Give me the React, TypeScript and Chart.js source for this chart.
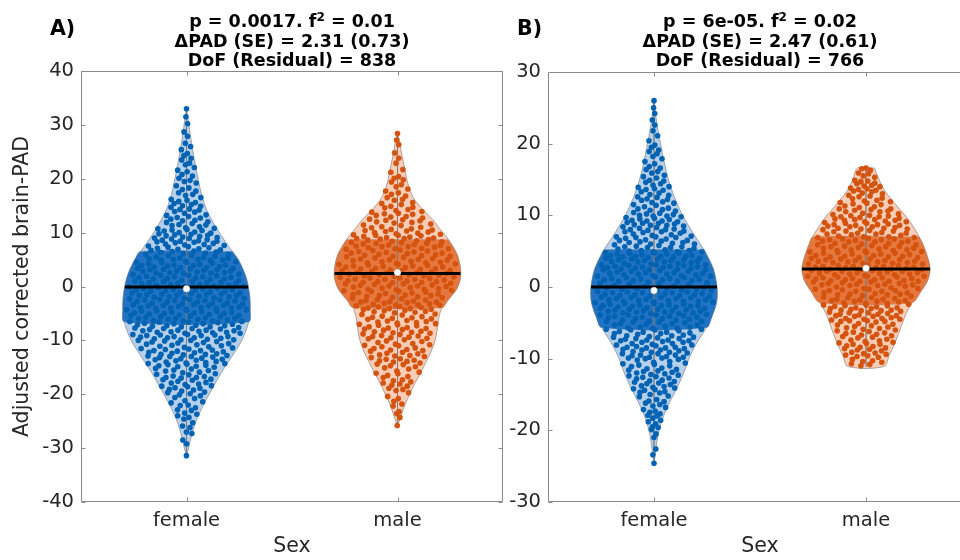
import React, { useEffect, useRef } from 'react';
import { Chart, registerables } from 'chart.js';

Chart.register(...registerables);
Chart.defaults.font.family = "'DejaVu Sans', sans-serif";

// ---------- shared ----------
const categories = ['female', 'male'];
const xTickValues = [1, 2];
const axisTitleX = 'Sex';
const axisTitleY = 'Adjusted corrected brain-PAD';

// ---------- panel A ----------
const statsA = ['0.0017', '0.01', '2.31', '0.73', '838']; // p, f2, dPAD, SE, DoF
const yRangeA = [-40, 40, 10];
const quartilesA = [[-6.6, 6.5], [-3.9, 8.7]];
const meansA = [-0.1, 2.4];
const mediansA = [-0.4, 2.6];

const outlineYFemaleA = [33.0, 31.0, 29.0, 26.0, 23.0, 20.0, 17.0, 14.0, 11.0, 8.0, 5.0, 2.0, -1.0, -4.0, -7.0, -10.0, -13.0, -16.0, -19.0, -22.0, -25.0, -28.0, -30.0, -31.5];
const outlineWFemaleA = [0, 0.008, 0.015, 0.027, 0.04, 0.055, 0.072, 0.098, 0.14, 0.19, 0.245, 0.28, 0.297, 0.302, 0.292, 0.262, 0.215, 0.165, 0.122, 0.08, 0.045, 0.022, 0.01, 0];
const outlineYMaleA = [28.5, 27.0, 25.0, 22.0, 19.0, 16.5, 14.5, 12.5, 10.5, 8.5, 6.0, 3.5, 1.5, -0.5, -2.5, -4.0, -6.0, -8.0, -10.0, -12.0, -14.0, -16.0, -18.0, -20.0, -22.0, -24.0, -26.0];
const outlineWMaleA = [0, 0.01, 0.018, 0.034, 0.05, 0.075, 0.115, 0.165, 0.205, 0.245, 0.282, 0.298, 0.298, 0.28, 0.24, 0.21, 0.195, 0.188, 0.178, 0.16, 0.135, 0.11, 0.082, 0.058, 0.035, 0.017, 0];

const femaleA = [
  33.0, 30.2, 27.9, 26.6, 25.4,
  24.3, 23.5, 22.6, 22.1, 21.3, 20.8, 20.1,
  19.7, 19.2, 18.3, 18.0, 17.4, 16.9, 16.5, 16.0, 15.6, 15.2,
  14.9, 14.4, 14.2, 13.8, 13.3, 13.2, 12.7, 12.5, 12.0, 11.9, 11.5, 11.3, 10.9, 10.8, 10.5, 10.4, 10.1, 10.0,
  9.9, 9.6, 9.5, 9.3, 9.2, 8.9, 8.8, 8.6, 8.4, 8.3, 8.0, 7.8, 7.7, 7.5, 7.4, 7.1, 7.0, 6.8, 6.7, 6.4, 6.3, 6.1, 5.9, 5.8, 5.6, 5.5, 5.3, 5.2, 5.0,
  4.9, 4.8, 4.7, 4.5, 4.4, 4.3, 4.1, 4.0, 3.9, 3.8, 3.6, 3.5, 3.4, 3.3, 3.1, 3.0, 2.9, 2.7, 2.6, 2.5, 2.4, 2.2, 2.1, 2.0, 1.8, 1.7, 1.6, 1.4, 1.3, 1.2, 1.0, 0.9, 0.8, 0.6, 0.5, 0.4, 0.2, 0.1,
  -0.1, -0.2, -0.3, -0.4, -0.6, -0.7, -0.8, -0.9, -1.1, -1.2, -1.3, -1.4, -1.5, -1.7, -1.8, -1.9, -2.0, -2.2, -2.3, -2.4, -2.5, -2.6, -2.8, -2.9, -3.0, -3.1, -3.2, -3.4, -3.5, -3.6, -3.7, -3.9, -4.0, -4.1, -4.2, -4.3, -4.5, -4.6, -4.7, -4.8, -4.9, -5.0, -5.0,
  -5.1, -5.3, -5.4, -5.5, -5.6, -5.8, -5.9, -6.0, -6.1, -6.3, -6.4, -6.5, -6.6, -6.8, -6.9, -7.0, -7.2, -7.3, -7.4, -7.5, -7.7, -7.8, -7.9, -8.1, -8.2, -8.3, -8.5, -8.6, -8.7, -8.9, -9.0, -9.1, -9.3, -9.4, -9.5, -9.6, -9.8, -9.9, -10.0, -10.0,
  -10.2, -10.3, -10.5, -10.6, -10.8, -11.0, -11.1, -11.3, -11.4, -11.6, -11.8, -11.9, -12.1, -12.2, -12.4, -12.6, -12.7, -12.9, -13.0, -13.2, -13.4, -13.5, -13.7, -13.8, -14.0, -14.2, -14.3, -14.5, -14.7, -14.8, -15.0,
  -15.2, -15.5, -15.7, -15.9, -16.2, -16.4, -16.7, -16.9, -17.2, -17.4, -17.6, -17.9, -18.1, -18.4, -18.6, -18.9, -19.1, -19.4, -19.6, -19.9,
  -20.3, -20.8, -21.2, -21.6, -22.1, -22.5, -23.0, -23.5, -24.0, -24.6,
  -25.3, -26.2, -27.3, -28.5,
  -31.4,
  31.5, 28.7, 26.0,
  24.7, 23.8, 22.9, 21.6, 20.5,
  19.5, 18.7, 17.7, 17.1, 16.2, 15.8, 15.4, 15.0,
  14.7, 14.3, 13.9, 13.6, 13.0, 12.8, 12.3, 12.2, 11.7, 11.4, 11.1, 10.7, 10.6, 10.3,
  9.8, 9.7, 9.4, 9.1, 9.0, 8.7, 8.5, 8.2, 8.1, 7.9, 7.6, 7.3, 7.2, 6.9, 6.6, 6.5, 6.2, 6.0, 5.7, 5.4, 5.1, 5.0, 8.4,
  4.95, 4.6, 4.5, 4.2, 4.0, 3.9, 3.7, 3.5, 3.2, 3.1, 2.8, 2.6, 2.5, 2.3, 2.1, 1.9, 1.8, 1.5, 1.4, 1.1, 0.9, 0.7, 0.7, 0.5, 0.3, 0.2, 0.0, 3.4, 1.6, 2.9,
  -0.05, -0.2, -0.4, -0.5, -0.7, -0.9, -1.0, -1.2, -1.4, -1.6, -1.7, -1.9, -2.1, -2.2, -2.4, -2.6, -2.7, -2.9, -3.1, -3.3, -3.4, -3.6, -3.8, -3.9, -4.1, -4.3, -4.4, -4.6, -4.8, -4.9, -1.5, -2.5, -3.5, -4.0,
  -5.2, -5.4, -5.6, -5.7, -5.9, -6.1, -6.2, -6.4, -6.6, -6.7, -6.9, -7.1, -7.3, -7.5, -7.6, -7.8, -8.0, -8.2, -8.4, -8.5, -8.7, -8.9, -9.1, -9.3, -9.5, -9.7, -9.9, -6.5, -8.1, -9.0,
  -10.1, -10.4, -10.7, -10.9, -11.2, -11.5, -11.7, -12.0, -12.3, -12.5, -12.8, -13.1, -13.3, -13.6, -13.9, -14.1, -14.4, -14.6, -14.9, -11.9, -13.0, -12.6, -14.3,
  -15.3, -15.6, -16.0, -16.3, -16.6, -17.0, -17.3, -17.8, -18.2, -18.8, -19.2, -19.7, -16.9, -18.5,
  -20.1, -20.6, -21.4, -22.0, -22.9, -23.7, -24.3,
  -25.9, -27.0, -29.2,
];

const maleA = [
  28.4, 26.3,
  24.8, 22.9, 21.7, 20.4,
  19.8, 18.9, 18.5, 17.4, 17.1, 16.2, 16.0, 15.6, 15.2,
  14.9, 14.6, 14.3, 13.9, 13.6, 13.4, 13.0, 12.7, 12.5, 12.2, 11.9, 11.6, 11.4, 11.1, 10.9, 10.7, 10.5, 10.3, 10.1, 10.0,
  9.8, 9.7, 9.5, 9.4, 9.2, 9.1, 8.9, 8.8, 8.6, 8.5, 8.3, 8.2, 8.0, 7.9, 7.7, 7.6, 7.4, 7.3, 7.1, 7.0, 6.8, 6.7, 6.5, 6.4, 6.2, 6.1, 5.9, 5.8, 5.6, 5.5, 5.3, 5.2, 5.0,
  4.9, 4.8, 4.6, 4.5, 4.4, 4.2, 4.1, 4.0, 3.8, 3.7, 3.6, 3.4, 3.3, 3.2, 3.0, 2.9, 2.8, 2.6, 2.5, 2.4, 2.2, 2.1, 2.0, 1.8, 1.7, 1.6, 1.4, 1.3, 1.2, 1.0, 0.9, 0.8, 0.6, 0.5, 0.4, 0.2, 0.1, 0.0,
  -0.2, -0.3, -0.5, -0.6, -0.8, -0.9, -1.1, -1.2, -1.4, -1.5, -1.7, -1.8, -2.0, -2.1, -2.3, -2.4, -2.6, -2.7, -2.9, -3.0, -3.2, -3.3, -3.5, -3.6, -3.8, -3.9, -4.1, -4.2, -4.4, -4.5, -4.7, -4.9,
  -5.1, -5.3, -5.5, -5.7, -5.9, -6.1, -6.3, -6.5, -6.7, -6.9, -7.1, -7.3, -7.5, -7.7, -7.9, -8.1, -8.3, -8.5, -8.7, -8.9, -9.1, -9.3, -9.5, -9.7, -9.9,
  -10.2, -10.4, -10.7, -10.9, -11.2, -11.4, -11.7, -11.9, -12.2, -12.4, -12.7, -12.9, -13.2, -13.4, -13.7, -13.9, -14.2, -14.4, -14.7, -14.9,
  -15.3, -15.7, -16.1, -16.5, -16.9, -17.3, -17.7, -18.1, -18.5, -18.9, -19.3, -19.7,
  -20.4, -21.3, -22.2, -23.2, -24.3,
  -25.8,
  27.2,
  23.8, 21.2, 20.1,
  19.4, 18.1, 17.7, 16.8, 16.5, 15.4,
  14.7, 14.1, 13.8, 13.2, 12.9, 12.4, 12.0, 11.8, 11.3, 11.0, 10.6, 10.4, 10.2, 13.5, 12.3,
  9.9, 9.6, 9.3, 9.0, 8.7, 8.4, 8.1, 7.8, 7.5, 7.2, 6.9, 6.6, 6.3, 6.0, 5.7, 5.4, 5.1, 8.9, 7.4, 6.2, 5.6, 9.5, 8.0, 7.0,
  4.95, 4.7, 4.3, 4.1, 3.9, 3.6, 3.5, 3.1, 2.9, 2.7, 2.5, 2.3, 2.0, 1.9, 1.6, 1.5, 1.1, 0.9, 0.7, 0.5, 0.3, 0.1, 3.3, 2.2, 1.3, 4.4, 0.8, 3.8,
  -0.1, -0.4, -0.7, -1.0, -1.3, -1.6, -1.9, -2.2, -2.5, -2.8, -3.1, -3.4, -3.7, -4.0, -4.3, -4.6, -4.8, -0.5, -1.7, -2.9, -3.5, -4.1, -0.9,
  -5.2, -5.6, -6.0, -6.4, -6.8, -7.2, -7.6, -8.0, -8.4, -8.8, -9.2, -9.6, -5.8, -6.6, -7.8, -8.6, -9.4, -7.0,
  -10.1, -10.6, -11.0, -11.5, -12.0, -12.5, -13.0, -13.5, -14.0, -14.5, -11.8, -12.8, -13.8, -10.8,
  -15.1, -15.9, -16.7, -17.5, -18.3, -19.1, -16.2, -17.9,
  -20.8, -21.8, -23.6,
];

// ---------- panel B ----------
const statsB = ['6e-05', '0.02', '2.47', '0.61', '766'];
const yRangeB = [-30, 30, 10];
const quartilesB = [[-5.7, 5.2], [-2.2, 7.0]];
const meansB = [0.0, 2.5];
const mediansB = [-0.5, 2.6];

const outlineYFemaleB = [26.2, 24.0, 22.0, 20.0, 17.5, 15.0, 12.5, 10.0, 7.5, 5.0, 2.5, 0.0, -2.0, -4.0, -6.0, -8.0, -10.0, -12.0, -14.0, -16.0, -18.0, -20.0, -22.0, -24.7];
const outlineWFemaleB = [0, 0.008, 0.018, 0.031, 0.048, 0.068, 0.097, 0.135, 0.185, 0.24, 0.28, 0.297, 0.296, 0.275, 0.24, 0.198, 0.165, 0.14, 0.11, 0.075, 0.045, 0.024, 0.012, 0];
const outlineYMaleB = [16.6, 15.0, 13.5, 11.5, 9.8, 8.0, 6.0, 4.0, 2.5, 1.0, -0.5, -2.2, -4.0, -6.0, -8.0, -9.5, -11.1];
const outlineWMaleB = [0.04, 0.062, 0.087, 0.14, 0.19, 0.232, 0.268, 0.292, 0.302, 0.292, 0.262, 0.217, 0.185, 0.16, 0.134, 0.11, 0.085];

const femaleB = [
  26.0,
  24.2, 22.6, 21.1,
  19.8, 19.1, 18.6, 17.9, 17.5, 16.8, 16.4, 15.9, 15.6, 15.2,
  14.9, 14.6, 14.4, 14.0, 13.7, 13.5, 13.1, 12.9, 12.6, 12.3, 12.1, 11.8, 11.5, 11.4, 11.0, 10.8, 10.7, 10.4, 10.2, 10.1,
  9.9, 9.8, 9.6, 9.5, 9.3, 9.2, 9.0, 8.9, 8.7, 8.6, 8.5, 8.3, 8.2, 8.0, 7.9, 7.7, 7.6, 7.5, 7.3, 7.2, 7.0, 6.9, 6.8, 6.6, 6.5, 6.4, 6.2, 6.1, 6.0, 5.9, 5.7, 5.6, 5.5, 5.4, 5.2, 5.1, 5.0,
  4.9, 4.9, 4.8, 4.7, 4.6, 4.5, 4.4, 4.3, 4.3, 4.2, 4.1, 4.0, 3.9, 3.8, 3.7, 3.7, 3.6, 3.5, 3.4, 3.3, 3.2, 3.1, 3.1, 3.0, 2.9, 2.8, 2.7, 2.6, 2.5, 2.4, 2.4, 2.3, 2.2, 2.1, 2.0, 1.9, 1.8, 1.8, 1.7, 1.6, 1.5, 1.4, 1.3, 1.2, 1.1, 1.0, 0.9, 0.8, 0.6, 0.5, 0.3, 0.1,
  -0.1, -0.2, -0.2, -0.3, -0.4, -0.5, -0.6, -0.7, -0.8, -0.8, -0.9, -1.0, -1.1, -1.2, -1.3, -1.4, -1.4, -1.5, -1.6, -1.7, -1.8, -1.9, -2.0, -2.0, -2.1, -2.2, -2.3, -2.4, -2.5, -2.6, -2.6, -2.7, -2.8, -2.9, -3.0, -3.1, -3.2, -3.3, -3.3, -3.4, -3.5, -3.6, -3.7, -3.8, -3.9, -3.9, -4.0, -4.1, -4.2, -4.4, -4.5, -4.6, -4.8, -4.9,
  -5.0, -5.1, -5.2, -5.3, -5.5, -5.6, -5.7, -5.8, -5.9, -6.0, -6.2, -6.3, -6.4, -6.5, -6.6, -6.8, -6.9, -7.0, -7.1, -7.2, -7.4, -7.5, -7.6, -7.7, -7.9, -8.0, -8.1, -8.3, -8.4, -8.5, -8.7, -8.8, -8.9, -9.1, -9.2, -9.3, -9.5, -9.6, -9.7, -9.8, -9.9, -10.0,
  -10.2, -10.4, -10.5, -10.7, -10.9, -11.1, -11.3, -11.5, -11.6, -11.8, -12.0, -12.2, -12.4, -12.6, -12.8, -13.0, -13.2, -13.4, -13.6, -13.8, -14.0, -14.2, -14.4, -14.6, -14.8, -15.0,
  -15.3, -15.7, -16.0, -16.4, -16.8, -17.1, -17.5, -17.9, -18.3, -18.6, -19.1, -19.5, -19.9,
  -21.0, -22.6, -24.6,
  25.0, 23.3, 21.8, 20.4,
  19.5, 18.9, 18.2, 17.2, 16.6, 16.1, 15.4,
  14.8, 14.2, 13.9, 13.3, 12.8, 12.5, 12.2, 11.7, 11.2, 10.9, 10.6, 10.3, 10.0, 13.6, 11.9,
  9.9, 9.7, 9.4, 9.1, 8.8, 8.6, 8.4, 8.1, 7.8, 7.7, 7.4, 7.1, 6.9, 6.7, 6.5, 6.3, 6.0, 5.8, 5.6, 5.3, 5.1, 9.2, 8.0, 7.0, 6.2, 5.5, 8.9,
  4.9, 4.7, 4.6, 4.4, 4.2, 4.0, 3.8, 3.6, 3.5, 3.3, 3.1, 2.9, 2.7, 2.6, 2.4, 2.2, 2.0, 1.9, 1.7, 1.5, 1.3, 1.2, 1.0, 0.8, 0.7, 0.5, 0.4, 0.2, 0.0, 4.3, 3.0, 1.6, 0.9, 2.5, 3.9, 1.1, 4.8, 2.8,
  -0.1, -0.3, -0.5, -0.6, -0.8, -1.0, -1.1, -1.3, -1.5, -1.6, -1.8, -2.0, -2.1, -2.3, -2.5, -2.7, -2.8, -3.0, -3.2, -3.4, -3.5, -3.7, -3.9, -4.1, -4.2, -4.4, -4.6, -4.8, -4.9, -0.7, -1.9, -2.6, -3.1, -3.6, -4.3, -1.2, -2.4, -4.7,
  -5.1, -5.3, -5.6, -5.8, -6.0, -6.3, -6.5, -6.7, -7.0, -7.2, -7.4, -7.7, -7.9, -8.1, -8.4, -8.6, -8.8, -9.0, -9.3, -9.5, -9.8, -5.9, -6.8, -7.5, -8.2, -9.1, -9.9, -6.1, -7.3, -8.5,
  -10.1, -10.6, -11.0, -11.4, -11.9, -12.3, -12.7, -13.1, -13.5, -13.9, -14.3, -14.7, -10.8, -11.7, -12.5, -13.3, -14.1, -12.1,
  -15.2, -15.9, -16.6, -17.3, -18.0, -18.8, -19.6, -16.2, -17.7,
  -20.5, -23.4,
];

const maleB = [
  16.6, 16.3, 15.8, 15.3,
  14.9, 14.7, 14.4, 14.2, 14.0, 13.7, 13.5, 13.3, 13.0, 12.8, 12.6, 12.3, 12.1, 11.9, 11.7, 11.5, 11.3, 11.1, 10.9, 10.8, 10.6, 10.5, 10.3, 10.2, 10.0,
  9.9, 9.8, 9.7, 9.5, 9.4, 9.3, 9.2, 9.1, 8.9, 8.8, 8.7, 8.6, 8.5, 8.4, 8.3, 8.2, 8.1, 8.0, 7.9, 7.7, 7.6, 7.5, 7.4, 7.3, 7.1, 7.0, 6.9, 6.8, 6.7, 6.6, 6.5, 6.4, 6.3, 6.2, 6.1, 5.9, 5.8, 5.7, 5.6, 5.5, 5.4, 5.3, 5.2, 5.1, 5.0,
  4.9, 4.8, 4.7, 4.6, 4.5, 4.4, 4.3, 4.3, 4.2, 4.1, 4.0, 3.9, 3.8, 3.7, 3.6, 3.6, 3.5, 3.4, 3.3, 3.2, 3.1, 3.0, 2.9, 2.9, 2.8, 2.7, 2.6, 2.5, 2.4, 2.3, 2.2, 2.2, 2.1, 2.0, 1.9, 1.8, 1.7, 1.6, 1.5, 1.5, 1.4, 1.3, 1.2, 1.1, 1.0, 0.9, 0.8, 0.8, 0.7, 0.6, 0.5, 0.4, 0.3, 0.2, 0.1,
  -0.1, -0.2, -0.3, -0.4, -0.5, -0.6, -0.8, -0.9, -1.0, -1.1, -1.2, -1.3, -1.5, -1.6, -1.7, -1.8, -1.9, -2.0, -2.2, -2.3, -2.4, -2.5, -2.6, -2.7, -2.9, -3.0, -3.1, -3.2, -3.3, -3.4, -3.6, -3.7, -3.8, -3.9, -4.0, -4.1, -4.3, -4.4, -4.5, -4.6, -4.7, -4.8, -4.9,
  -5.1, -5.3, -5.5, -5.6, -5.8, -6.0, -6.2, -6.4, -6.5, -6.7, -6.9, -7.1, -7.3, -7.4, -7.6, -7.8, -8.0, -8.2, -8.3, -8.5, -8.7, -8.9, -9.1, -9.2, -9.4, -9.6, -9.8,
  -10.1, -10.4, -10.7, -11.0,
  16.5, 15.9, 15.5,
  14.8, 14.5, 14.1, 13.8, 13.4, 13.1, 12.7, 12.4, 12.0, 11.6, 11.2, 10.9, 10.5, 10.1, 13.6, 11.8, 10.7,
  9.95, 9.6, 9.3, 9.0, 8.7, 8.4, 8.1, 7.8, 7.5, 7.2, 6.9, 6.6, 6.3, 6.0, 5.7, 5.4, 5.1, 9.8, 8.9, 8.2, 7.4, 6.7, 5.9, 5.2, 7.0, 8.6, 9.4, 6.4, 5.6, 7.8, 9.1, 6.1,
  4.95, 4.7, 4.4, 4.2, 3.9, 3.7, 3.4, 3.2, 2.9, 2.7, 2.4, 2.2, 1.9, 1.7, 1.4, 1.2, 0.9, 0.7, 0.4, 0.2, 0.0, 4.6, 4.1, 3.5, 3.0, 2.5, 2.0, 1.5, 1.0, 0.5, 4.8, 3.8, 2.8, 1.8, 0.8, 3.3, 2.3, 1.3, 0.3,
  -0.2, -0.5, -0.8, -1.1, -1.4, -1.7, -2.0, -2.3, -2.6, -2.9, -3.2, -3.5, -3.8, -4.1, -4.4, -4.7, -1.0, -2.1, -3.0, -4.0, -0.6, -1.5, -2.5, -3.6, -4.5, -1.9, -3.3, -4.8, -0.3, -2.8,
  -5.2, -5.7, -6.1, -6.6, -7.0, -7.5, -7.9, -8.4, -8.8, -9.3, -9.7, -5.9, -6.8, -7.7, -8.6, -9.5, -6.3, -8.0, -5.4,
  -10.3, -10.8, -10.5,
];

// ---------- colours ----------
const lightColors = ['#B6D0EC', '#FACDB6'];
const bandColors = ['#2273C3', '#E6783F'];
const dotColors = ['#0062B2', '#D4530F'];

// ---------- helpers ----------
function vdc(n: number): number {
  let q = 0;
  let b = 0.5;
  while (n > 0) {
    if (n & 1) q += b;
    n >>= 1;
    b *= 0.5;
  }
  return q;
}

function widthAt(ys: number[], ws: number[], y: number): number {
  if (y >= ys[0]) return ws[0];
  for (let i = 0; i < ys.length - 1; i++) {
    if (y <= ys[i] && y >= ys[i + 1]) {
      const t = (ys[i] - y) / (ys[i] - ys[i + 1]);
      return ws[i] + t * (ws[i + 1] - ws[i]);
    }
  }
  return ws[ws.length - 1];
}

type Group = {
  values: number[];
  oy: number[];
  ow: number[];
  q: number[];
  mean: number;
  median: number;
};

function buildDatasets(groups: Group[]) {
  const ds: any[] = [];
  groups.forEach((g, gi) => {
    const c = xTickValues[gi];
    const right = g.oy.map((y, i) => ({ x: c + g.ow[i], y }));
    const left = g.oy.map((y, i) => ({ x: c - g.ow[i], y })).reverse();
    ds.push({
      type: 'line', data: [...right, ...left, right[0]], showLine: true, fill: 'shape',
      backgroundColor: lightColors[gi], borderColor: 'rgba(105,105,105,0.55)', borderWidth: 1,
      pointRadius: 0, tension: 0.3, order: 10,
    });
    const [q1, q3] = g.q;
    const inner = g.oy.map((y, i) => ({ y, w: g.ow[i] })).filter((p) => p.y < q3 && p.y > q1);
    const pts = [{ y: q3, w: widthAt(g.oy, g.ow, q3) }, ...inner, { y: q1, w: widthAt(g.oy, g.ow, q1) }];
    const br = pts.map((p) => ({ x: c + p.w, y: p.y }));
    const bl = pts.map((p) => ({ x: c - p.w, y: p.y })).reverse();
    ds.push({
      type: 'line', data: [...br, ...bl, br[0]], showLine: true, fill: 'shape',
      backgroundColor: bandColors[gi], borderColor: 'rgba(120,120,120,0.35)', borderWidth: 0.8,
      pointRadius: 0, tension: 0.3, order: 9,
    });
    ds.push({
      type: 'line', data: [{ x: c, y: g.oy[0] }, { x: c, y: g.oy[g.oy.length - 1] }], showLine: true,
      borderColor: 'rgba(120,120,120,0.6)', borderWidth: 1, pointRadius: 0, fill: false, order: 8,
    });
    const sorted = [...g.values].sort((a, b) => b - a);
    ds.push({
      type: 'scatter',
      data: sorted.map((y, i) => ({ x: c + (2 * vdc(i + 1) - 1) * 0.95 * widthAt(g.oy, g.ow, y), y })),
      backgroundColor: dotColors[gi], borderWidth: 0, pointRadius: 2.8, order: 7,
    });
    const mw = widthAt(g.oy, g.ow, g.mean);
    ds.push({
      type: 'line', data: [{ x: c - mw, y: g.mean }, { x: c + mw, y: g.mean }], showLine: true,
      borderColor: '#000000', borderWidth: 3, pointRadius: 0, fill: false, order: 6,
    });
    ds.push({
      type: 'scatter', data: [{ x: c, y: g.median }], backgroundColor: '#ffffff',
      borderColor: 'rgba(90,90,90,0.5)', borderWidth: 0.6, pointRadius: 3.5, order: 5,
    });
  });
  return ds;
}

const textPlugin = {
  id: 'panelText',
  afterDraw(chart: any, _args: any, opts: any) {
    const { ctx, chartArea } = chart;
    ctx.save();
    ctx.fillStyle = '#000000';
    ctx.textBaseline = 'alphabetic';
    ctx.textAlign = 'left';
    const cx = (chartArea.left + chartArea.right) / 2;
    const main = "bold 17.5px 'DejaVu Sans', sans-serif";
    const sup = "bold 12px 'DejaVu Sans', sans-serif";
    opts.lines.forEach((segs: any[], li: number) => {
      const base = opts.baselines[li];
      let total = 0;
      segs.forEach((s) => {
        ctx.font = s.sup ? sup : main;
        total += ctx.measureText(s.text).width;
      });
      let x = cx - total / 2;
      segs.forEach((s) => {
        ctx.font = s.sup ? sup : main;
        ctx.fillText(s.text, x, s.sup ? base - 6 : base);
        x += ctx.measureText(s.text).width;
      });
    });
    ctx.font = "bold 20.5px 'DejaVu Sans', sans-serif";
    ctx.fillText(opts.letter, opts.letterX, opts.letterY);
    ctx.restore();
  },
};

const boxPlugin = {
  id: 'axesBox',
  afterDatasetsDraw(chart: any) {
    const { ctx, chartArea: a, scales } = chart;
    ctx.save();
    ctx.strokeStyle = '#8a8a8a';
    ctx.lineWidth = 1;
    const L = Math.round(a.left) + 0.5;
    const R = Math.round(a.right) - 0.5;
    const T = Math.round(a.top) + 0.5;
    const B = Math.round(a.bottom) - 0.5;
    ctx.beginPath();
    ctx.rect(L, T, R - L, B - T);
    scales.y.ticks.forEach((t: any) => {
      const py = Math.round(scales.y.getPixelForValue(t.value)) + 0.5;
      ctx.moveTo(L, py); ctx.lineTo(L + 4, py);
      ctx.moveTo(R, py); ctx.lineTo(R - 4, py);
    });
    scales.x.ticks.forEach((t: any) => {
      const px = Math.round(scales.x.getPixelForValue(t.value)) + 0.5;
      ctx.moveTo(px, B); ctx.lineTo(px, B - 4);
      ctx.moveTo(px, T); ctx.lineTo(px, T + 4);
    });
    ctx.stroke();
    ctx.restore();
  },
};

function makeConfig(p: any) {
  const textColor = '#262626';
  return {
    type: 'scatter',
    data: { datasets: buildDatasets(p.groups) },
    plugins: [textPlugin, boxPlugin],
    options: {
      responsive: false,
      animation: false,
      devicePixelRatio: 1,
      events: [],
      layout: { padding: p.padding },
      plugins: {
        legend: { display: false },
        tooltip: { enabled: false },
        panelText: {
          lines: p.titleLines,
          baselines: [27, 46.5, 66],
          letter: p.letter,
          letterX: p.letterX,
          letterY: 34.5,
        },
      },
      scales: {
        x: {
          type: 'linear',
          min: 0.5,
          max: 2.5,
          afterBuildTicks: (s: any) => { s.ticks = xTickValues.map((v) => ({ value: v })); },
          afterFit: (s: any) => { s.height = 58; },
          grid: { display: false, drawTicks: false },
          border: { display: false },
          ticks: {
            autoSkip: false, maxRotation: 0, minRotation: 0, padding: 7,
            color: textColor, font: { size: 19.5 },
            callback: (v: any) => categories[Math.round(Number(v)) - 1] ?? '',
          },
          title: { display: true, text: axisTitleX, color: textColor, font: { size: 20.5 }, padding: { top: 0, bottom: 1 } },
        },
        y: {
          min: p.yRange[0],
          max: p.yRange[1],
          afterFit: (s: any) => { s.width = p.yWidth; },
          grid: { display: false, drawTicks: false },
          border: { display: false },
          ticks: { stepSize: p.yRange[2], padding: 7, color: textColor, font: { size: 19.5 } },
          title: p.yTitle
            ? { display: true, text: p.yTitle, color: textColor, font: { size: 20.5 }, padding: { top: 10, bottom: 0 } }
            : { display: false },
        },
      },
    },
  };
}

function titleLines(stats: string[]) {
  return [
    [{ text: `p = ${stats[0]}. f` }, { text: '2', sup: true }, { text: ` = ${stats[1]}` }],
    [{ text: `\u0394PAD (SE) = ${stats[2]} (${stats[3]})` }],
    [{ text: `DoF (Residual) = ${stats[4]}` }],
  ];
}

const panelA = {
  letter: 'A)',
  letterX: 50,
  titleLines: titleLines(statsA),
  yRange: yRangeA,
  yTitle: axisTitleY,
  yWidth: 81,
  padding: { left: 0, top: 71, right: 17, bottom: 0 },
  groups: [
    { values: femaleA, oy: outlineYFemaleA, ow: outlineWFemaleA, q: quartilesA[0], mean: meansA[0], median: mediansA[0] },
    { values: maleA, oy: outlineYMaleA, ow: outlineWMaleA, q: quartilesA[1], mean: meansA[1], median: mediansA[1] },
  ],
};

const panelB = {
  letter: 'B)',
  letterX: 37,
  titleLines: titleLines(statsB),
  yRange: yRangeB,
  yTitle: null,
  yWidth: 68,
  padding: { left: 0, top: 72, right: 8, bottom: 0 },
  groups: [
    { values: femaleB, oy: outlineYFemaleB, ow: outlineWFemaleB, q: quartilesB[0], mean: meansB[0], median: mediansB[0] },
    { values: maleB, oy: outlineYMaleB, ow: outlineWMaleB, q: quartilesB[1], mean: meansB[1], median: mediansB[1] },
  ],
};

export default function App() {
  const refA = useRef<HTMLCanvasElement>(null);
  const refB = useRef<HTMLCanvasElement>(null);
  useEffect(() => {
    const a = new Chart(refA.current as HTMLCanvasElement, makeConfig(panelA) as any);
    const b = new Chart(refB.current as HTMLCanvasElement, makeConfig(panelB) as any);
    return () => {
      a.destroy();
      b.destroy();
    };
  }, []);
  return (
    <div style={{ position: 'fixed', left: 0, top: 0, width: 960, height: 560, overflow: 'hidden', background: '#ffffff' }}>
      <canvas ref={refA} width={520} height={560} style={{ position: 'absolute', left: 0, top: 0, width: 520, height: 560 }} />
      <canvas ref={refB} width={500} height={560} style={{ position: 'absolute', left: 480, top: 0, width: 500, height: 560 }} />
    </div>
  );
}
